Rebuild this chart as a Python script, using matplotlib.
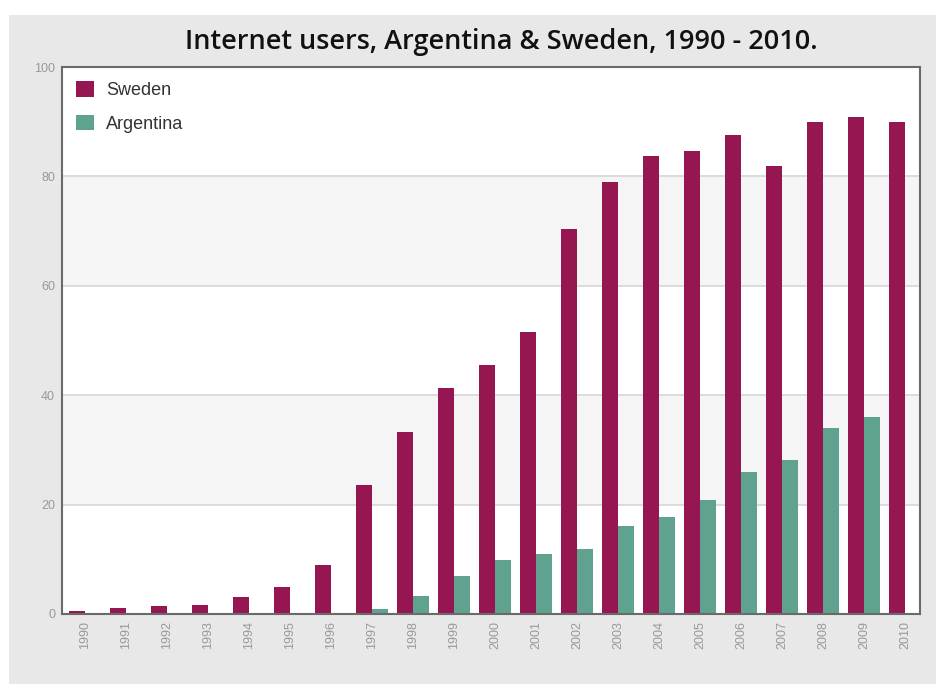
import matplotlib
matplotlib.use("Agg")
import matplotlib.pyplot as plt
import numpy as np
from matplotlib.patches import Rectangle

years = [str(y) for y in range(1990, 2011)]
sweden = [0.6, 1.1, 1.5, 1.7, 3.1, 5.0, 9.0, 23.6, 33.3, 41.3, 45.5, 51.6,
          70.4, 79.0, 83.7, 84.6, 87.6, 81.9, 90.0, 90.9, 90.0]
argentina = [0, 0, 0, 0, 0, 0, 0.2, 0.9, 3.3, 7.0, 9.8, 10.9,
             11.9, 16.0, 17.7, 20.9, 26.0, 28.1, 34.0, 36.0, 0]
yticks = [0, 20, 40, 60, 80, 100]

SWE_C = "#951650"
ARG_C = "#5fa28f"

fig = plt.figure(figsize=(9.37, 6.84), dpi=100, facecolor="white")
fig.patches.append(Rectangle((9/937, 0), 1 - 9/937, 1 - 15/684,
                             transform=fig.transFigure, facecolor="#e8e8e8",
                             edgecolor="none", zorder=-10))

ax = fig.add_axes([62/937, 1 - 614/684, (920 - 62)/937, (614 - 67)/684])
ax.set_facecolor("white")

x = np.arange(len(years))
w = 0.39
ax.set_xlim(-0.56, 20.37)
ax.set_ylim(0, 100)

# alternating bands
for i in range(len(yticks) - 1):
    if i % 2 == 1:
        ax.axhspan(yticks[i], yticks[i + 1], facecolor="#f5f5f5", edgecolor="none", zorder=0)
for t in yticks[1:-1]:
    ax.axhline(t, color="#d6d6d6", lw=1.2, zorder=0.5)

ax.bar(x - w / 2, sweden, width=w, color=SWE_C, zorder=2, label="Sweden")
ax.bar(x + w / 2, argentina, width=w, color=ARG_C, zorder=2, label="Argentina")

ax.set_xticks(x)
ax.set_xticklabels(years, rotation=90, fontsize=9, color="#999999",
                   family="Liberation Sans")
ax.set_yticks(yticks)
ax.set_yticklabels([str(t) for t in yticks], fontsize=9, color="#999999",
                   family="Liberation Sans")
ax.tick_params(axis="both", length=0, pad=5)

for s in ax.spines.values():
    s.set_color("#6a6a6a")
    s.set_linewidth(1.5)

leg = ax.legend(loc="upper left", frameon=False,
                prop={"family": "Liberation Sans", "size": 13},
                handlelength=0.95, handleheight=0.95, handletextpad=0.7,
                borderaxespad=0.4, labelspacing=0.85)
for t in leg.get_texts():
    t.set_color("#333333")

fig.text(0.535, 1 - 42/684, "Internet users, Argentina & Sweden, 1990 - 2010.",
         ha="center", va="center", fontsize=19.5, fontweight="semibold",
         family="Open Sans", color="#111111")

fig.savefig("out.png", dpi=100, facecolor=fig.get_facecolor())
